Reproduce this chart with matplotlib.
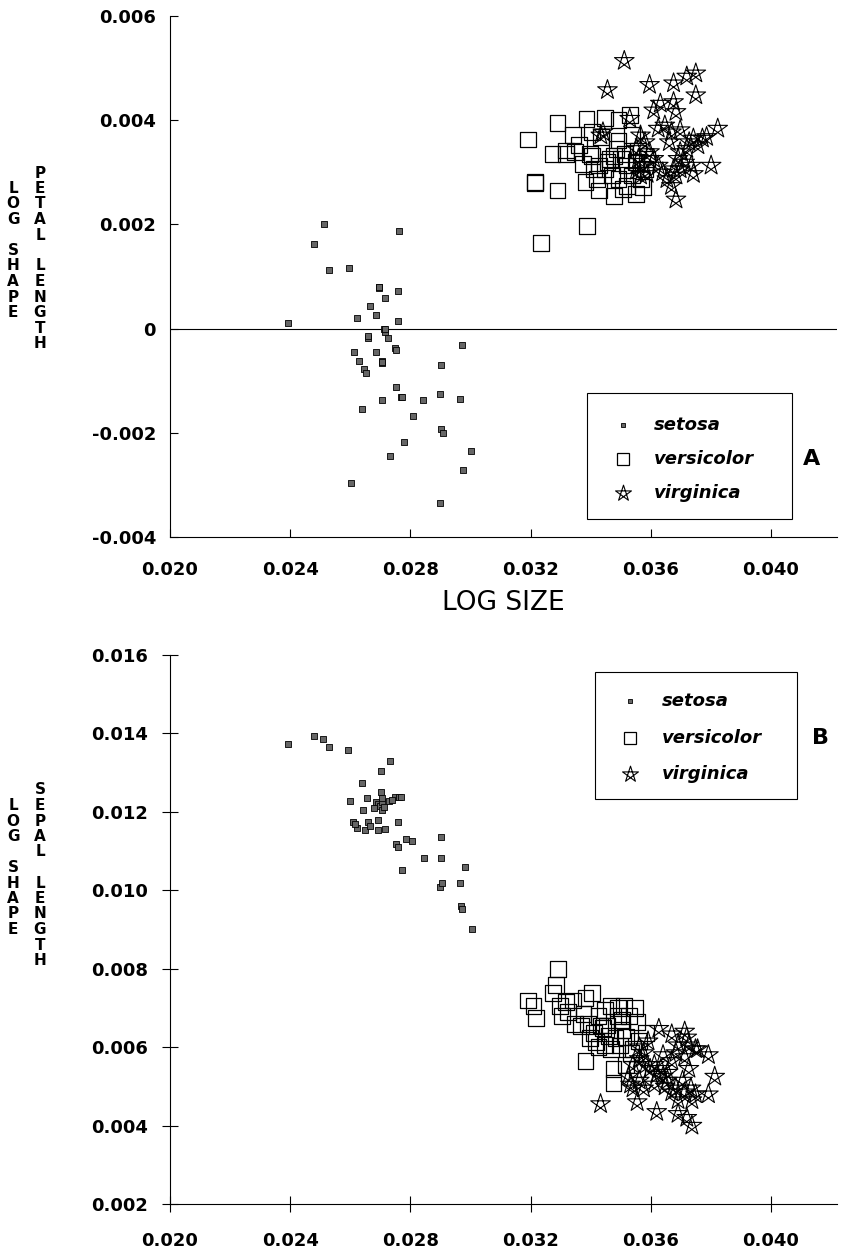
import numpy as np
import matplotlib
matplotlib.use('Agg')
import matplotlib.pyplot as plt
from matplotlib.path import Path
from matplotlib.patches import Rectangle

# panel A: log shape (petal length) vs log size
setosa_a_x = [0.02512, 0.02478, 0.02761, 0.02530, 0.02595, 0.02695, 0.02695, 0.02759, 0.02716, 0.02667,
              0.02684, 0.02624, 0.02759, 0.02392, 0.02712, 0.02716, 0.02658, 0.02658, 0.02726, 0.02612,
              0.02687, 0.02748, 0.02753, 0.02971, 0.02629, 0.02705, 0.02707, 0.02646, 0.02652, 0.02901,
              0.02752, 0.02768, 0.02772, 0.02843, 0.02897, 0.02964, 0.02705, 0.02639, 0.02808, 0.02901,
              0.02908, 0.02780, 0.02731, 0.03003, 0.02976, 0.02603, 0.02899, 0.02716, 0.02707, 0.02695]
setosa_a_y = [0.00201, 0.00162, 0.00187, 0.00112, 0.00116, 0.00080, 0.00078, 0.00073, 0.00058, 0.00043,
              0.00027, 0.00020, 0.00014, 0.00010, -0.00001, -0.00006, -0.00018, -0.00015, -0.00019, -0.00045,
              -0.00045, -0.00038, -0.00042, -0.00031, -0.00062, -0.00062, -0.00066, -0.00078, -0.00086, -0.00070,
              -0.00113, -0.00131, -0.00132, -0.00137, -0.00126, -0.00135, -0.00138, -0.00154, -0.00168, -0.00193,
              -0.00200, -0.00217, -0.00245, -0.00235, -0.00271, -0.00296, -0.00334, 0.00000, -0.00064, 0.00079]

versicolor_a_x = [0.03192, 0.03214, 0.03214, 0.03236, 0.03290, 0.03290, 0.03342, 0.03273, 0.03317, 0.03349,
                  0.03386, 0.03387, 0.03449, 0.03493, 0.03405, 0.03434, 0.03375, 0.03405, 0.03427, 0.03383,
                  0.03427, 0.03479, 0.03449, 0.03471, 0.03486, 0.03493, 0.03501, 0.03515, 0.03522, 0.03552,
                  0.03530, 0.03552, 0.03464, 0.03420, 0.03361, 0.03412, 0.03567, 0.03581, 0.03508, 0.03537,
                  0.03588, 0.03456, 0.03479, 0.03522, 0.03574, 0.03493, 0.03397, 0.03537, 0.03559, 0.03317]
versicolor_a_y = [0.00363, 0.00282, 0.00279, 0.00165, 0.00394, 0.00265, 0.00371, 0.00335, 0.00335, 0.00339,
                  0.00403, 0.00197, 0.00405, 0.00400, 0.00377, 0.00368, 0.00316, 0.00332, 0.00313, 0.00281,
                  0.00265, 0.00255, 0.00306, 0.00294, 0.00345, 0.00361, 0.00326, 0.00335, 0.00274, 0.00258,
                  0.00410, 0.00319, 0.00326, 0.00287, 0.00352, 0.00306, 0.00287, 0.00306, 0.00268, 0.00294,
                  0.00326, 0.00319, 0.00332, 0.00313, 0.00271, 0.00287, 0.00335, 0.00371, 0.00342, 0.00342]

virginica_a_x = [0.03512, 0.03456, 0.03596, 0.03676, 0.03720, 0.03750, 0.03750, 0.03676, 0.03632, 0.03610,
                 0.03684, 0.03530, 0.03434, 0.03441, 0.03823, 0.03786, 0.03801, 0.03684, 0.03625, 0.03647,
                 0.03669, 0.03698, 0.03728, 0.03742, 0.03757, 0.03566, 0.03581, 0.03552, 0.03596, 0.03559,
                 0.03574, 0.03552, 0.03566, 0.03625, 0.03640, 0.03654, 0.03669, 0.03684, 0.03698, 0.03713,
                 0.03735, 0.03742, 0.03698, 0.03720, 0.03691, 0.03610, 0.03588, 0.03676, 0.03662, 0.03772]
virginica_a_y = [0.00514, 0.00458, 0.00468, 0.00471, 0.00484, 0.00490, 0.00448, 0.00435, 0.00432, 0.00419,
                 0.00416, 0.00403, 0.00371, 0.00377, 0.00384, 0.00368, 0.00313, 0.00248, 0.00384, 0.00390,
                 0.00377, 0.00381, 0.00358, 0.00365, 0.00352, 0.00371, 0.00358, 0.00345, 0.00339, 0.00326,
                 0.00313, 0.00303, 0.00294, 0.00313, 0.00300, 0.00287, 0.00274, 0.00294, 0.00306, 0.00319,
                 0.00313, 0.00297, 0.00339, 0.00345, 0.00326, 0.00326, 0.00297, 0.00306, 0.00358, 0.00365]

# panel B: log shape (sepal length) vs log size
setosa_b_x = [0.02392, 0.02478, 0.02510, 0.02528, 0.02593, 0.02732, 0.02703, 0.02639, 0.02703, 0.02600,
              0.02655, 0.02643, 0.02686, 0.02693, 0.02700, 0.02707, 0.02704, 0.02729, 0.02748, 0.02761,
              0.02768, 0.02679, 0.02610, 0.02621, 0.02648, 0.02658, 0.02665, 0.02693, 0.02693, 0.02715,
              0.02758, 0.02751, 0.02758, 0.02784, 0.02805, 0.02772, 0.02844, 0.02902, 0.02902, 0.02981,
              0.02897, 0.02906, 0.02966, 0.02968, 0.02973, 0.03006, 0.02615, 0.02705, 0.02739, 0.02712]
setosa_b_y = [0.01373, 0.01393, 0.01385, 0.01365, 0.01359, 0.01330, 0.01303, 0.01273, 0.01250, 0.01228,
              0.01236, 0.01206, 0.01226, 0.01219, 0.01214, 0.01226, 0.01204, 0.01227, 0.01239, 0.01239,
              0.01238, 0.01210, 0.01175, 0.01158, 0.01155, 0.01173, 0.01163, 0.01180, 0.01155, 0.01156,
              0.01173, 0.01118, 0.01111, 0.01130, 0.01125, 0.01051, 0.01083, 0.01083, 0.01135, 0.01059,
              0.01009, 0.01019, 0.01018, 0.00959, 0.00953, 0.00900, 0.01170, 0.01235, 0.01230, 0.01212]

versicolor_b_x = [0.03292, 0.03285, 0.03275, 0.03192, 0.03210, 0.03217, 0.03299, 0.03340, 0.03404, 0.03376,
                  0.03368, 0.03347, 0.03383, 0.03397, 0.03419, 0.03426, 0.03447, 0.03469, 0.03483, 0.03498,
                  0.03476, 0.03476, 0.03490, 0.03512, 0.03548, 0.03505, 0.03527, 0.03555, 0.03505, 0.03440,
                  0.03462, 0.03411, 0.03390, 0.03426, 0.03454, 0.03562, 0.03519, 0.03541, 0.03325, 0.03318,
                  0.03383, 0.03433, 0.03490, 0.03469, 0.03584, 0.03519, 0.03533, 0.03555, 0.03304, 0.03447]
versicolor_b_y = [0.00799, 0.00759, 0.00739, 0.00719, 0.00704, 0.00674, 0.00704, 0.00719, 0.00739, 0.00684,
                  0.00654, 0.00659, 0.00564, 0.00624, 0.00614, 0.00679, 0.00694, 0.00704, 0.00624, 0.00604,
                  0.00544, 0.00509, 0.00699, 0.00704, 0.00699, 0.00669, 0.00679, 0.00664, 0.00644, 0.00649,
                  0.00629, 0.00635, 0.00660, 0.00600, 0.00655, 0.00615, 0.00625, 0.00595, 0.00690, 0.00715,
                  0.00725, 0.00655, 0.00680, 0.00595, 0.00635, 0.00555, 0.00585, 0.00545, 0.00680, 0.00605]

virginica_b_x = [0.03627, 0.03670, 0.03720, 0.03749, 0.03792, 0.03813, 0.03792, 0.03737, 0.03737, 0.03720,
                 0.03691, 0.03620, 0.03555, 0.03433, 0.03541, 0.03591, 0.03576, 0.03612, 0.03634, 0.03656,
                 0.03670, 0.03684, 0.03691, 0.03713, 0.03727, 0.03706, 0.03684, 0.03670, 0.03656, 0.03641,
                 0.03620, 0.03598, 0.03584, 0.03562, 0.03541, 0.03526, 0.03533, 0.03562, 0.03576, 0.03612,
                 0.03648, 0.03691, 0.03713, 0.03734, 0.03749, 0.03727, 0.03756, 0.03713, 0.03562, 0.03641]
virginica_b_y = [0.00647, 0.00633, 0.00625, 0.00595, 0.00580, 0.00525, 0.00480, 0.00465, 0.00400, 0.00420,
                 0.00430, 0.00435, 0.00460, 0.00455, 0.00495, 0.00615, 0.00585, 0.00555, 0.00545, 0.00535,
                 0.00565, 0.00585, 0.00605, 0.00575, 0.00545, 0.00515, 0.00495, 0.00485, 0.00515, 0.00525,
                 0.00530, 0.00545, 0.00555, 0.00570, 0.00555, 0.00525, 0.00505, 0.00515, 0.00495, 0.00505,
                 0.00500, 0.00465, 0.00485, 0.00495, 0.00480, 0.00605, 0.00595, 0.00640, 0.00600, 0.00580]

species = ['setosa', 'versicolor', 'virginica']

x_ticks = [0.020, 0.024, 0.028, 0.032, 0.036, 0.040]
x_tick_labels = ['0.020', '0.024', '0.028', '0.032', '0.036', '0.040']
y_ticks_a = [-0.004, -0.002, 0.0, 0.002, 0.004, 0.006]
y_tick_labels_a = ['-0.004', '-0.002', '0', '0.002', '0.004', '0.006']
y_ticks_b = [0.002, 0.004, 0.006, 0.008, 0.010, 0.012, 0.014, 0.016]
y_tick_labels_b = ['0.002', '0.004', '0.006', '0.008', '0.010', '0.012', '0.014', '0.016']

W, H = 844, 1252

# pentagram: five crossing strokes (first point repeated so the last stroke is drawn)
ang = np.deg2rad(90 + 144 * np.arange(6))
STAR = Path(np.column_stack([np.cos(ang), np.sin(ang)]), closed=True)

STYLES = {
    'setosa': dict(marker='s', s=16, facecolors='#666666', edgecolors='black', linewidths=0.6),
    'versicolor': dict(marker='s', s=130, facecolors='none', edgecolors='black', linewidths=0.9),
    'virginica': dict(marker=STAR, s=220, facecolors='none', edgecolors='black', linewidths=0.8),
}
KEY_STYLES = {
    'setosa': dict(marker='s', markersize=3, mfc='#666666', mec='black', mew=0.6),
    'versicolor': dict(marker='s', markersize=9, mfc='none', mec='black', mew=0.9),
    'virginica': dict(marker=STAR, markersize=12, mfc='none', mec='black', mew=0.8),
}


def fx(px):
    return px / W


def fy(py):
    return 1 - py / H


def style_axes(ax, ticks_y, labels_y, tick_dir, tick_len, ypad, xpad):
    ax.spines['top'].set_visible(False)
    ax.spines['right'].set_visible(False)
    for sp in ('left', 'bottom'):
        ax.spines[sp].set_linewidth(0.8)
    ax.set_xlim(0.020, 0.0422)
    ax.set_xticks(x_ticks)
    ax.set_xticklabels(x_tick_labels, fontsize=13, fontweight='bold')
    ax.set_yticks(ticks_y)
    ax.set_yticklabels(labels_y, fontsize=13, fontweight='bold')
    ax.tick_params(axis='both', direction=tick_dir, length=tick_len, width=0.8)
    ax.tick_params(axis='y', pad=ypad)
    ax.tick_params(axis='x', pad=xpad)


def draw_key(ax, box, rows_y, marker_x, text_x, letter, letter_pos):
    x0, y0, x1, y1 = box
    ax.add_patch(Rectangle((x0, y0), x1 - x0, y1 - y0, transform=ax.transAxes,
                           fill=False, lw=0.8, clip_on=False))
    for name, yy in zip(species, rows_y):
        ax.plot([marker_x], [yy], ls='none', transform=ax.transAxes, clip_on=False, **KEY_STYLES[name])
        ax.text(text_x, yy, name, transform=ax.transAxes, fontsize=13, fontweight='bold',
                fontstyle='italic', va='center', ha='left')
    ax.text(letter_pos[0], letter_pos[1], letter, transform=ax.transAxes, fontsize=16,
            fontweight='bold', va='center', ha='center')


def stacked_label(text, x_px, top_px, dy=15.5):
    for i, ch in enumerate(text):
        if ch != ' ':
            fig.text(fx(x_px), fy(top_px + i * dy), ch, fontsize=11, fontweight='bold',
                     ha='center', va='center')


def plot_species(ax, xs, ys):
    for name, x, y in zip(species, xs, ys):
        ax.scatter(x, y, zorder=3, **STYLES[name])


plt.rcParams['font.family'] = ['DejaVu Sans']
fig = plt.figure(figsize=(W / 100, H / 100), dpi=100)

# panel A
ax1 = fig.add_axes([fx(170), fy(537), (837 - 170) / W, (537 - 16) / H])
ax1.set_ylim(-0.004, 0.006)
style_axes(ax1, y_ticks_a, y_tick_labels_a, 'in', 6, 10, 17)
ax1.axhline(0, color='black', lw=0.8, zorder=1)
plot_species(ax1, [setosa_a_x, versicolor_a_x, virginica_a_x],
             [setosa_a_y, versicolor_a_y, virginica_a_y])
draw_key(ax1, (0.625, 0.034, 0.932, 0.276), [0.215, 0.150, 0.084], 0.679, 0.725, 'A', (0.962, 0.150))
fig.text(fx(503), fy(603), 'LOG SIZE', fontsize=19, ha='center', va='center')
stacked_label('LOG SHAPE', 13, 173 + 15.5)
stacked_label('PETAL LENGTH', 40, 173)

# panel B
ax2 = fig.add_axes([fx(170), fy(1204), (837 - 170) / W, (1204 - 655) / H])
ax2.set_ylim(0.002, 0.016)
style_axes(ax2, y_ticks_b, y_tick_labels_b, 'inout', 11, 10, 15)
plot_species(ax2, [setosa_b_x, versicolor_b_x, virginica_b_x],
             [setosa_b_y, versicolor_b_y, virginica_b_y])
draw_key(ax2, (0.637, 0.738, 0.940, 0.969), [0.916, 0.848, 0.784], 0.690, 0.738, 'B', (0.975, 0.848))
stacked_label('LOG SHAPE', 13, 790 + 15.5)
stacked_label('SEPAL LENGTH', 40, 790)

fig.savefig('out.png', dpi=100)
